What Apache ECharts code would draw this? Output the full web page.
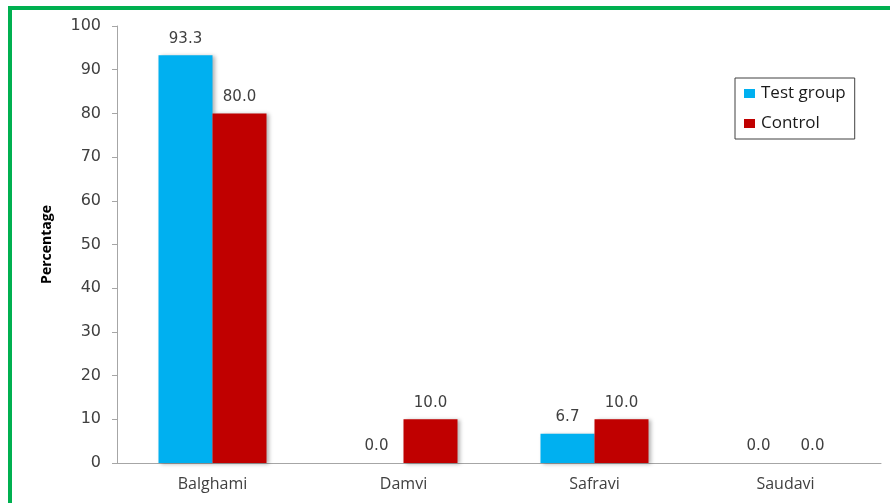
<!DOCTYPE html>
<html>
<head>
<meta charset="utf-8">
<script src="https://cdn.jsdelivr.net/npm/echarts@6/dist/echarts.min.js"></script>
<style>
html,body{margin:0;padding:0;background:#fff;}
#chart{width:890px;height:503px;}
</style>
</head>
<body>
<div id="chart"></div>
<script>
const categories = ['Balghami', 'Damvi', 'Safravi', 'Saudavi'];
const testGroup = [93.3, 0.0, 6.7, 0.0];
const control = [80.0, 10.0, 10.0, 0.0];
const yTicks = [0, 10, 20, 30, 40, 50, 60, 70, 80, 90, 100];

const chart = echarts.init(document.getElementById('chart'));
const labelStyle = {
  show: true,
  position: 'top',
  distance: 9,
  fontFamily: 'DejaVu Sans',
  fontSize: 15,
  color: '#404040',
  formatter: p => p.value.toFixed(1)
};
chart.setOption({
  animation: false,
  backgroundColor: '#fff',
  graphic: [{
    type: 'rect',
    shape: { x: 10, y: 8, width: 1000, height: 1000 },
    style: { fill: 'none', stroke: '#00B050', lineWidth: 4 },
    silent: true
  }],
  grid: { left: 117, right: 9, top: 26, bottom: 40 },
  legend: {
    orient: 'vertical',
    left: 735,
    top: 78,
    padding: [6, 9, 6, 9],
    itemGap: 11,
    itemWidth: 11,
    itemHeight: 9,
    borderColor: '#404040',
    borderWidth: 1,
    icon: 'rect',
    textStyle: { fontFamily: 'Open Sans', fontSize: 17, color: '#1a1a1a', lineHeight: 19, padding: [0, 0, 0, 1] },
    data: ['Test group', 'Control']
  },
  xAxis: {
    type: 'category',
    data: categories,
    axisLine: { lineStyle: { color: '#A6A6A6', width: 1 } },
    axisTick: { show: false },
    axisLabel: { fontFamily: 'Open Sans', fontSize: 16, color: '#404040', margin: 13 }
  },
  yAxis: {
    type: 'value',
    min: yTicks[0],
    max: yTicks[yTicks.length - 1],
    interval: yTicks[1] - yTicks[0],
    name: 'Percentage',
    nameLocation: 'middle',
    nameGap: 63,
    nameTextStyle: { fontFamily: 'Open Sans', fontWeight: 'bold', fontSize: 14, color: '#000' },
    axisLine: { show: true, lineStyle: { color: '#A6A6A6', width: 1 } },
    axisTick: { show: true, length: 5, lineStyle: { color: '#A6A6A6' } },
    axisLabel: { fontFamily: 'DejaVu Sans', fontSize: 16, color: '#404040', margin: 16 },
    splitLine: { show: false }
  },
  series: [
    {
      name: 'Test group',
      type: 'bar',
      data: testGroup,
      barWidth: 54,
      barGap: '0%',
      itemStyle: { color: '#00B0F0', shadowBlur: 4, shadowOffsetX: 2, shadowOffsetY: 1, shadowColor: 'rgba(0,0,0,0.3)' },
      label: labelStyle
    },
    {
      name: 'Control',
      type: 'bar',
      data: control,
      barWidth: 54,
      barGap: '0%',
      itemStyle: { color: '#C00000', shadowBlur: 4, shadowOffsetX: 2, shadowOffsetY: 1, shadowColor: 'rgba(0,0,0,0.3)' },
      label: labelStyle
    }
  ]
});
</script>
</body>
</html>
